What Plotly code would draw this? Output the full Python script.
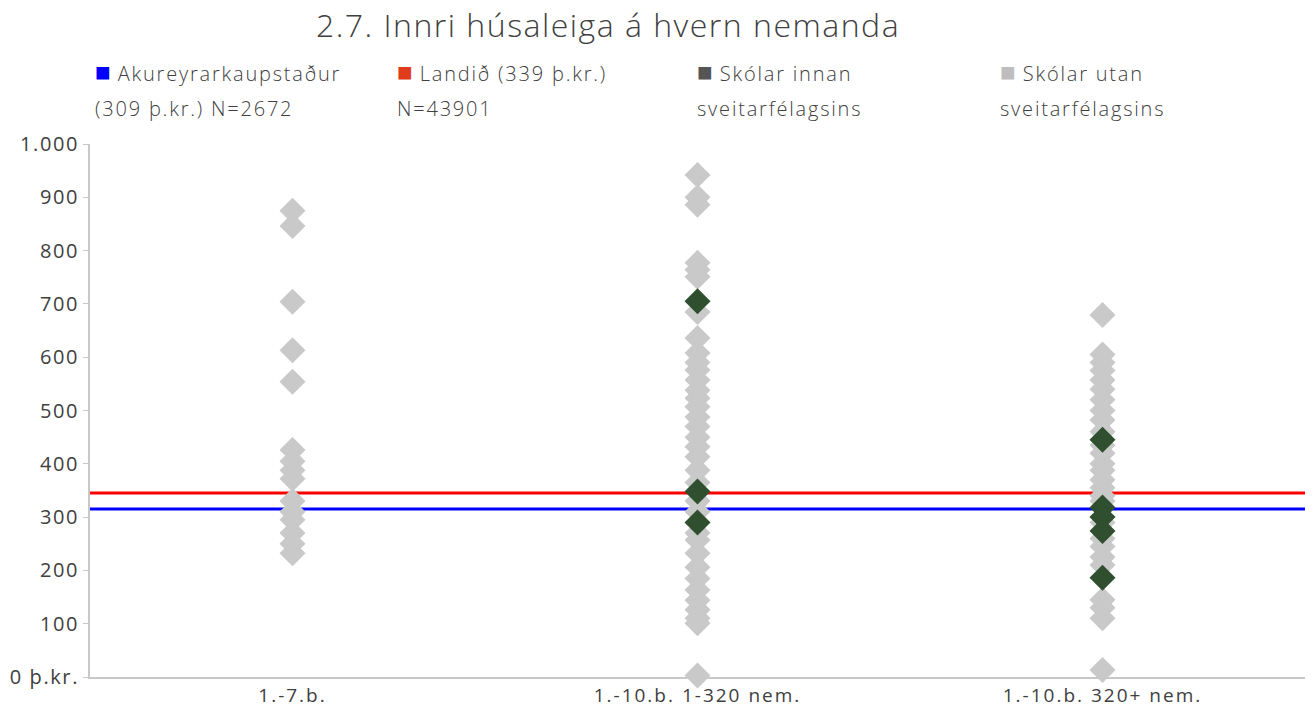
import plotly.graph_objects as go

categories = ["1.-7.b.", "1.-10.b. 1-320 nem.", "1.-10.b. 320+ nem."]

utan_1 = [875, 846, 704, 613, 554, 426, 405, 388, 372, 330, 310, 295, 270, 250, 232]
utan_2 = [942, 900, 886, 777, 764, 751, 685, 636, 608, 590, 576, 557, 538, 523, 507,
          488, 470, 450, 432, 413, 388, 365, 330, 310, 270, 257, 232, 206, 185, 163,
          144, 126, 110, 101, 3]
utan_3 = [679, 605, 590, 575, 557, 540, 520, 500, 482, 460, 435, 420, 400, 388, 370,
          355, 340, 330, 300, 290, 260, 245, 225, 210, 145, 130, 110, 13]

innan_1 = []
innan_2 = [705, 348, 290]
innan_3 = [445, 318, 300, 274, 186]

akureyri_line = 315
landid_line = 345

legend_labels = [
    ("Akureyrarkaupstaður", "(309 þ.kr.) N=2672"),
    ("Landið (339 þ.kr.)", "N=43901"),
    ("Skólar innan", "sveitarfélagsins"),
    ("Skólar utan", "sveitarfélagsins"),
]
legend_colors = ["#0000ff", "#e03c1c", "#555555", "#bdbdbd"]

yticks = [0, 100, 200, 300, 400, 500, 600, 700, 800, 900, 1000]
yticklabels = ["0 þ.kr.", "100", "200", "300", "400", "500", "600", "700", "800", "900", "1.000"]

FONT = "Open Sans"
GRAY = "#c9c9c9"
GREEN = "#2f4f2f"
TXT = "#404040"

# page body has an 8px default margin: the figure is drawn 8px right/down
W, H = 1306, 700
L, R, T, B = 82, 9, 136, 31
PW, PH = W - L - R, H - T - B


def spaced(text, size=None, ls=1.4):
    style = "letter-spacing:%.1fpx" % ls
    if size:
        style += ";font-size:%dpx" % size
    parts = text.split("<br>")
    return "<br>".join('<span style="%s">%s</span>' % (style, p) for p in parts)


fig = go.Figure()

utan_x = [0] * len(utan_1) + [1] * len(utan_2) + [2] * len(utan_3)
utan_y = utan_1 + utan_2 + utan_3
innan_x = [0] * len(innan_1) + [1] * len(innan_2) + [2] * len(innan_3)
innan_y = innan_1 + innan_2 + innan_3

fig.add_trace(go.Scatter(x=utan_x, y=utan_y, mode="markers", showlegend=False,
                         name="Skólar utan sveitarfélagsins",
                         marker=dict(symbol="diamond", size=20, color=GRAY), cliponaxis=False))
fig.add_trace(go.Scatter(x=innan_x, y=innan_y, mode="markers", showlegend=False,
                         name="Skólar innan sveitarfélagsins",
                         marker=dict(symbol="diamond", size=20, color=GREEN), cliponaxis=False))

fig.add_hline(y=landid_line, line=dict(color="#ff0000", width=3), layer="below")
fig.add_hline(y=akureyri_line, line=dict(color="#0000ff", width=3), layer="below")

# legend drawn as text blocks (text wraps under the colour square, as in the reference)
leg_left_px = [3, 305, 605, 908]
for (l1, l2), col, xp in zip(legend_labels, legend_colors, leg_left_px):
    txt = ('<span style="font-size:26px;color:%s;font-family:DejaVu Sans">■</span>'
           '<span style="font-size:20px;letter-spacing:1.8px"> %s</span><br>'
           '<span style="font-size:20px;letter-spacing:1.8px">%s</span>') % (col, l1, l2)
    fig.add_annotation(text=txt, xref="paper", yref="paper", x=xp / PW, y=1 + (T - 47) / PH,
                       xanchor="left", yanchor="top", align="left", showarrow=False,
                       font=dict(size=27, color=TXT, family=FONT, weight=300))

fig.update_layout(
    width=W, height=H,
    margin=dict(l=L, r=R, t=T, b=B),
    paper_bgcolor="white", plot_bgcolor="white",
    showlegend=False,
    font=dict(family=FONT, color=TXT, size=19),
    title=dict(text=spaced("2.7. Innri húsaleiga á hvern nemanda", ls=1.5), x=600 / W, xanchor="center",
               y=1 - 18 / H, yanchor="middle", automargin=False,
               font=dict(size=32, color=TXT, family=FONT, weight=300)),
    xaxis=dict(range=[-0.5, 2.5], tickvals=[0, 1, 2], ticktext=[spaced(c, ls=2.0) for c in categories],
               showline=True, linecolor="#c8c8c8", linewidth=2, showgrid=False, automargin=False,
               ticks="", tickfont=dict(size=19, color=TXT), zeroline=False),
    yaxis=dict(range=[0, 1000], tickvals=yticks, ticktext=[spaced(t, ls=1.6) for t in yticklabels],
               showline=True, linecolor="#c8c8c8", linewidth=2, showgrid=False, automargin=False,
               ticks="outside", ticklen=5, tickcolor="#c8c8c8", tickwidth=1, ticklabelstandoff=0,
               tickfont=dict(size=20, color=TXT), zeroline=False),
)

fig.write_html("out.html")
